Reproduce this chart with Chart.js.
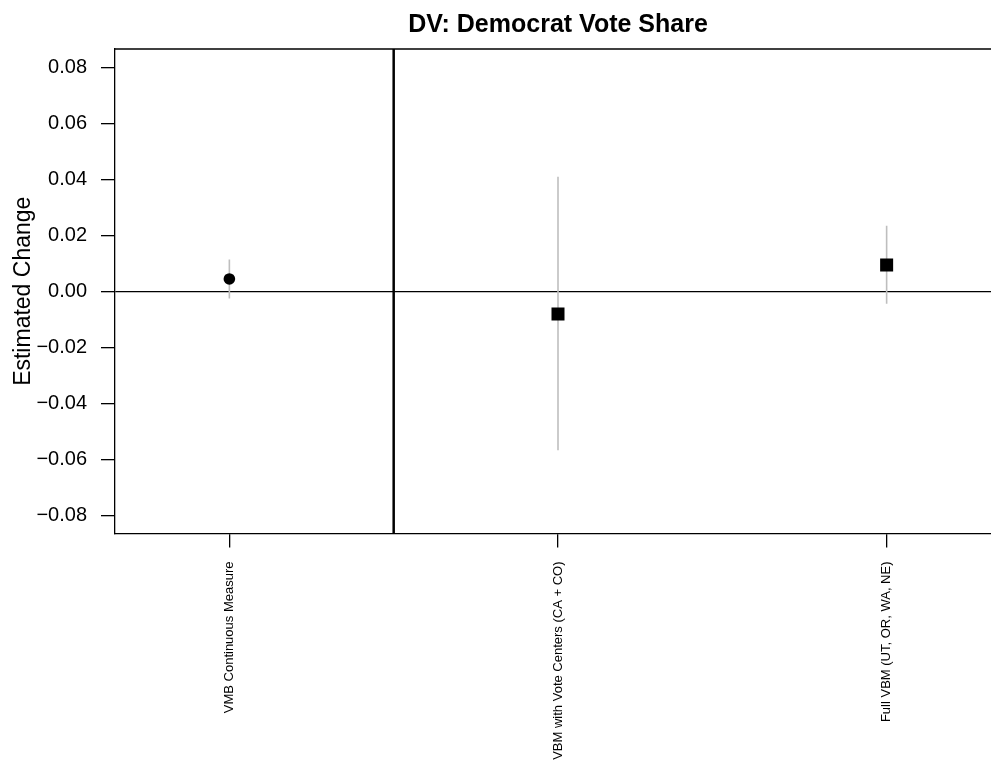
<!DOCTYPE html>
<html>
<head>
<meta charset="utf-8">
<script src="https://cdn.jsdelivr.net/npm/chart.js@4/dist/chart.umd.min.js"></script>
<style>
  html, body { margin: 0; padding: 0; background: #fff; overflow: hidden; width: 991px; height: 760px; }
  #wrap { position: absolute; left: 0; top: 0; width: 1116px; height: 760px; }
  canvas { display: block; }
</style>
</head>
<body>
<div id="wrap"><canvas id="c" width="1116" height="760"></canvas></div>
<script>
// Treatment categories along the x axis
const categories = [
  'VMB Continuous Measure',
  'VBM with Vote Centers (CA + CO)',
  'Full VBM (UT, OR, WA, NE)'
];
// Point estimates and confidence bounds for each category
const estimates   = [0.0044, -0.0081, 0.0094];
const lowerBounds = [-0.0026, -0.0568, -0.0045];
const upperBounds = [0.0113, 0.0409, 0.0234];
// Y axis tick values
const yTickValues = [-0.08, -0.06, -0.04, -0.02, 0, 0.02, 0.04, 0.06, 0.08];
// Separator between the continuous measure and the category effects
const dividerAt = 1.5;
// Axis extents
const yLimits = [-0.0865, 0.0865];
const xLimits = [0.652, 3.348];

const formatTick = v => {
  const s = Math.abs(v).toFixed(2);
  return v < -1e-12 ? '\u2212' + s : s;
};

Chart.defaults.font.family = '"Liberation Sans", Arial, Helvetica, sans-serif';
Chart.defaults.color = '#000';

const ciDatasets = categories.map((_, i) => ({
  data: [{ x: i + 1, y: lowerBounds[i] }, { x: i + 1, y: upperBounds[i] }],
  showLine: true,
  borderColor: '#bebebe',
  borderWidth: 1.6,
  pointRadius: 0,
  pointHoverRadius: 0
}));

const pointDataset = {
  data: estimates.map((v, i) => ({ x: i + 1, y: v })),
  showLine: false,
  backgroundColor: '#000',
  borderColor: '#000',
  borderWidth: 0,
  pointStyle: ctx => (ctx.dataIndex === 0 ? 'circle' : 'rect'),
  pointRadius: ctx => (ctx.dataIndex === 0 ? 5.8 : 9.2)
};

const dividerDataset = {
  data: [{ x: dividerAt, y: yLimits[0] }, { x: dividerAt, y: yLimits[1] }],
  showLine: true,
  borderColor: '#000',
  borderWidth: 2.5,
  pointRadius: 0,
  pointHoverRadius: 0
};

// Top edge of the plotting frame
const frameTop = {
  id: 'frameTop',
  afterDraw(chart) {
    const { ctx, chartArea } = chart;
    ctx.save();
    ctx.strokeStyle = '#000';
    ctx.lineWidth = 1.3;
    ctx.beginPath();
    ctx.moveTo(chartArea.left, chartArea.top);
    ctx.lineTo(chartArea.right, chartArea.top);
    ctx.stroke();
    ctx.restore();
  }
};

new Chart(document.getElementById('c'), {
  type: 'scatter',
  data: { datasets: [pointDataset, dividerDataset, ...ciDatasets] },
  plugins: [frameTop],
  options: {
    responsive: false,
    animation: false,
    events: [],
    layout: { padding: 0 },
    plugins: {
      legend: { display: false },
      tooltip: { enabled: false },
      title: {
        display: true,
        text: 'DV: Democrat Vote Share',
        font: { size: 25, weight: 'bold' },
        color: '#000',
        padding: { top: 10, bottom: 9 }
      }
    },
    scales: {
      x: {
        type: 'linear',
        min: xLimits[0],
        max: xLimits[1],
        afterBuildTicks: scale => { scale.ticks = categories.map((_, i) => ({ value: i + 1 })); },
        afterFit: scale => { scale.height = 226.5; },
        ticks: {
          callback: v => categories[Math.round(v) - 1],
          font: { size: 13 },
          color: '#000',
          minRotation: 90,
          maxRotation: 90,
          autoSkip: false,
          padding: 14
        },
        grid: {
          drawOnChartArea: false,
          tickLength: 14,
          tickColor: '#000',
          lineWidth: 1.3
        },
        border: { display: true, color: '#000', width: 1.3 }
      },
      y: {
        type: 'linear',
        min: yLimits[0],
        max: yLimits[1],
        afterBuildTicks: scale => { scale.ticks = yTickValues.map(v => ({ value: v })); },
        afterFit: scale => { scale.width = 115; },
        ticks: {
          callback: v => formatTick(v),
          font: { size: 20 },
          color: '#000',
          padding: 14
        },
        grid: {
          color: ctx => (ctx.tick && Math.abs(ctx.tick.value) < 1e-12 ? '#000' : 'rgba(0,0,0,0)'),
          lineWidth: 1.3,
          tickLength: 14,
          tickColor: '#000'
        },
        border: { display: true, color: '#000', width: 1.3 },
        title: {
          display: true,
          text: 'Estimated Change',
          font: { size: 23 },
          color: '#000',
          padding: { top: 10, bottom: 0 }
        }
      },
      // Empty right margin so the plot sits between equal side margins
      yRight: {
        type: 'linear',
        position: 'right',
        min: yLimits[0],
        max: yLimits[1],
        afterFit: scale => { scale.width = 115; },
        ticks: { display: false },
        grid: { display: false },
        border: { display: false }
      }
    }
  }
});
</script>
</body>
</html>
